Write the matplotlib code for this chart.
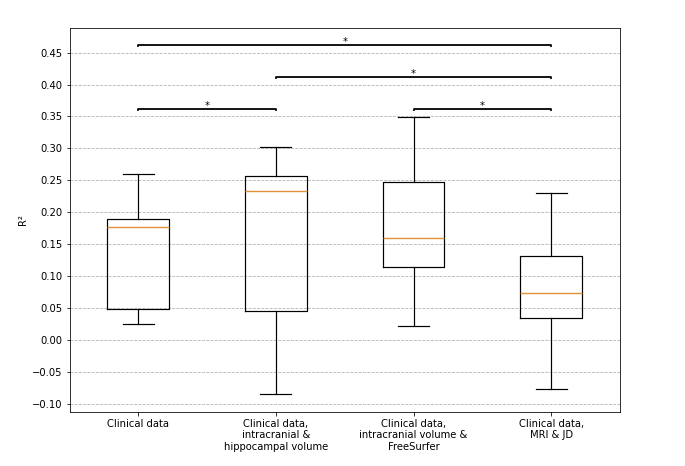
import matplotlib
matplotlib.use("Agg")
import matplotlib.pyplot as plt

labels = ["Clinical data",
          "Clinical data,\nintracranial &\nhippocampal volume",
          "Clinical data,\nintracranial volume &\nFreeSurfer",
          "Clinical data,\nMRI & JD"]
whislo = [0.025, -0.084, 0.022, -0.077]
q1 = [0.048, 0.046, 0.114, 0.034]
med = [0.177, 0.234, 0.160, 0.074]
q3 = [0.190, 0.256, 0.247, 0.132]
whishi = [0.260, 0.302, 0.349, 0.230]

# significance brackets: (box i, box j, height)
sig_i = [1, 2, 1, 3]
sig_j = [2, 4, 4, 4]
sig_y = [0.36, 0.41, 0.46, 0.36]
sig_text = ["*", "*", "*", "*"]

DPI = 72
fig = plt.figure(figsize=(685 / DPI, 466 / DPI), dpi=DPI)
ax = fig.add_axes([0.1015, 0.1165, 0.8035, 0.8235])

stats = []
for k in range(len(labels)):
    stats.append(dict(label=labels[k], whislo=whislo[k], q1=q1[k], med=med[k],
                      q3=q3[k], whishi=whishi[k], fliers=[]))

ax.bxp(stats, showfliers=False,
       boxprops=dict(color="black", linewidth=1.2),
       whiskerprops=dict(color="black", linewidth=1.2),
       capprops=dict(color="black", linewidth=1.2),
       medianprops=dict(color="#e0913a", linewidth=1.4))

h = 0.002
for i, j, y, t in zip(sig_i, sig_j, sig_y, sig_text):
    ax.plot([i, i, j, j], [y, y + h, y + h, y], color="black", linewidth=1.8)
    ax.text((i + j) / 2, y + h, t, ha="center", va="baseline", fontsize=10)

ax.set_ylim(-0.1125, 0.4887)
ax.set_xlim(0.5, 4.5)
ax.set_yticks([-0.10, -0.05, 0.0, 0.05, 0.10, 0.15, 0.20, 0.25, 0.30, 0.35, 0.40, 0.45])
ax.yaxis.grid(True, linestyle="--", color="#b0b0b0", linewidth=0.8)
ax.set_axisbelow(True)
ax.tick_params(labelsize=10)
ax.set_ylabel("R²", fontsize=10)

fig.savefig("out.png", dpi=DPI)
